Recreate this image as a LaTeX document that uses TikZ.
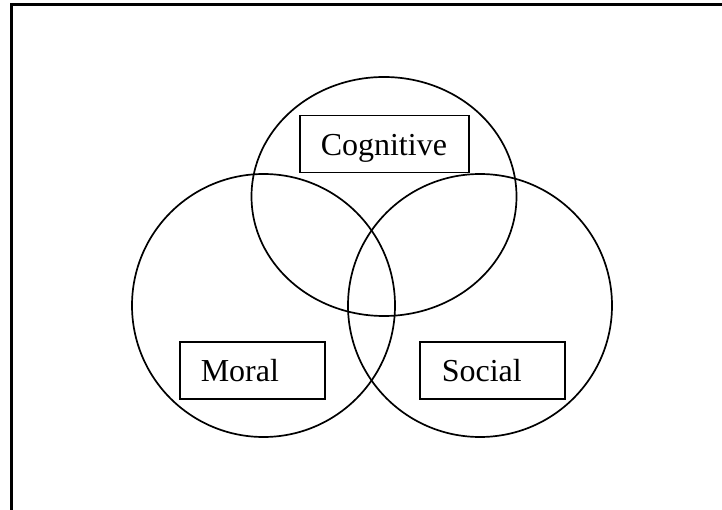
\documentclass[tikz,border=0pt]{standalone}
\usepackage{fontspec}
\setmainfont{Liberation Serif}
\begin{document}
\begin{tikzpicture}[x=1pt,y=-1pt,
  ring/.style={draw=black,line width=1.7pt},
  frameline/.style={draw=black,line width=2.2pt},
  labelbox/.style={draw=black,line width=1.5pt,anchor=north west,align=left,
    font=\fontsize{32}{38}\selectfont,inner ysep=5pt,text height=35pt,text depth=12pt}
]
\useasboundingbox (0,0) rectangle (722,510);
\clip (0,0) rectangle (722,510);
\fill[white] (0,0) rectangle (722,510);
% frame
\draw[frameline] (11.5,520) -- (11.5,4.5) -- (740,4.5);
% sets
\draw[ring] (384,196.5) ellipse [x radius=132.5, y radius=119.5];
\draw[ring] (263.5,305.5) ellipse [x radius=131.5, y radius=131.5];
\draw[ring] (480,305.5) ellipse [x radius=132, y radius=131.5];
% labels
\node[labelbox,inner xsep=21pt,text width=127pt] (cog) at (299,115) {Cognitive};
\node[labelbox,inner xsep=21pt,text width=103pt] (mor) at (179,341) {Moral};
\node[labelbox,inner xsep=22pt,text width=101pt] (soc) at (419,341) {Social};
\end{tikzpicture}
\end{document}
